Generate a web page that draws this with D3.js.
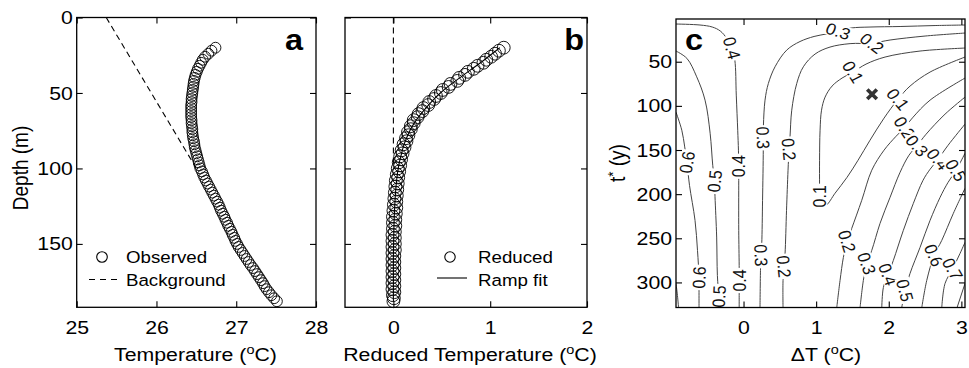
<!DOCTYPE html>
<html>
<head>
<meta charset="utf-8">
<script src="https://cdn.jsdelivr.net/npm/d3@7"></script>
<style>
  body { margin: 0; background: #fff; }
  svg { display: block; background: #fff; }
</style>
</head>
<body>
<svg width="969" height="368"></svg>
<script>
'use strict';

// ---- panel a / b data (depth in m, temperatures in degC) ----
const depth = [20,22,24,26,28,30,32,34,36,38,40,42,44,46,48,50,52,54,56,58,
  60,62,64,66,68,70,72,74,76,78,80,82,84,86,88,90,92,94,96,98,
  100,102,104,106,108,110,112,114,116,118,120,122,124,126,128,130,132,134,136,138,
  140,142,144,146,148,150,152,154,156,158,160,162,164,166,168,170,172,174,176,178,
  180,182,184,186,188];
const observed_temp = [26.74,26.69,26.65,26.61,26.58,26.56,26.54,26.52,26.505,26.49,
  26.48,26.47,26.465,26.46,26.455,26.45,26.445,26.44,26.44,26.435,
  26.435,26.435,26.435,26.435,26.44,26.44,26.445,26.45,26.45,26.455,
  26.46,26.47,26.475,26.48,26.49,26.50,26.51,26.52,26.53,26.54,
  26.55,26.57,26.585,26.60,26.62,26.64,26.66,26.68,26.70,26.72,
  26.74,26.76,26.78,26.795,26.81,26.83,26.85,26.865,26.885,26.90,
  26.92,26.94,26.955,26.975,26.99,27.01,27.03,27.055,27.08,27.105,
  27.13,27.155,27.18,27.21,27.235,27.26,27.285,27.31,27.335,27.355,
  27.38,27.41,27.44,27.475,27.51];
const reduced_temp = [1.14,1.09,1.05,1.01,0.96,0.93,0.87,0.83,0.77,0.74,
  0.68,0.66,0.59,0.57,0.51,0.49,0.44,0.42,0.37,0.36,
  0.31,0.30,0.26,0.25,0.21,0.21,0.18,0.18,0.15,0.155,
  0.13,0.135,0.105,0.115,0.085,0.095,0.07,0.08,0.055,0.07,
  0.045,0.06,0.035,0.05,0.025,0.045,0.02,0.04,0.015,0.035,
  0.01,0.03,0.005,0.03,0.0,0.025,-0.005,0.02,-0.005,0.02,
  -0.005,0.015,-0.01,0.015,-0.01,0.015,-0.01,0.015,-0.01,0.01,
  -0.01,0.01,-0.01,0.01,-0.01,0.01,-0.01,0.01,-0.01,0.01,
  -0.01,0.01,-0.005,0.005,0.0];
const background_line = [[25.37, 0], [26.50, 100]];
const ramp_depth = [20,25,30,35,40,45,50,55,60,65,70,75,80,85,90,95,100,110,120,130,140,150,160,170,180,188];
const ramp_temp = [1.10,1.00,0.90,0.79,0.685,0.58,0.485,0.405,0.335,0.27,0.215,0.17,0.135,0.105,0.085,0.065,0.05,0.03,0.018,0.01,0.005,0.002,0,0,0,0];
const zero_line = [[0, 0], [0, 100]];

// ---- panel c data: contour paths as [deltaT, t*] ----
const c04_left = [[-0.93,7.3],[-0.60,8.4],[-0.43,10.7],[-0.32,15.2],[-0.23,23.7],[-0.16,34.5],[-0.12,48.1],[-0.10,87.8],[-0.08,127.6],[-0.07,150.2],[-0.066,168.4],[-0.066,184.3],[-0.066,241],[-0.06,280.8],[-0.06,297.8],[-0.06,314.8],[-0.06,328.4]];
const c05_left = [[-0.93,37.9],[-0.78,46.2],[-0.645,67.1],[-0.53,93.5],[-0.46,131],[-0.424,167.3],[-0.40,185.4],[-0.393,202.4],[-0.37,248.6],[-0.36,292.1],[-0.34,315.9],[-0.333,328.4]];
const c06_left = [[-0.93,107.1],[-0.85,127.6],[-0.81,146.5],[-0.78,163.9],[-0.744,190],[-0.668,229.7],[-0.634,263.7],[-0.613,294.4],[-0.613,309.1],[-0.613,328.4]];
const c07_left = [[-0.93,301.2],[-0.91,314.8],[-0.895,328.4]];
const c03_left = [[0.227,328.4],[0.234,284.2],[0.241,269.4],[0.251,255.8],[0.262,207],[0.272,150],[0.271,136.1],[0.274,122],[0.296,93.5],[0.342,74.6],[0.434,55.7],[0.595,36.8],[0.778,27.1],[0.971,21.4],[1.136,18.6],[1.302,15.2],[1.481,11.8],[1.742,10.7],[2.156,10.1],[2.638,9.0],[3.05,8.4]];
const c02_left = [[0.544,328.4],[0.544,297.8],[0.558,281.9],[0.572,267.1],[0.592,218.3],[0.613,172.9],[0.627,149.1],[0.640,135.2],[0.664,104.9],[0.733,74.6],[0.824,55.7],[0.985,41.3],[1.191,33.4],[1.467,29.5],[1.77,29],[2.018,25.4],[2.50,20.9],[3.05,17.5]];
const c01_loop = [[3.05,34.5],[2.431,37.9],[1.949,44.7],[1.687,52.7],[1.508,61.7],[1.357,68.5],[1.219,77.6],[1.123,90.1],[1.074,104.9],[1.054,127.6],[1.047,161.6],[1.047,190],[1.047,202.4],[1.054,213.8],[1.136,212.7],[1.260,199],[1.426,180.9],[1.577,161.6],[1.742,138.9],[1.935,113.9],[2.128,92.4],[2.293,77.6],[2.569,61.7],[3.05,44.7]];
const c02_right = [[1.284,328.4],[1.329,297.8],[1.375,271.7],[1.426,253.5],[1.490,238.8],[1.628,207],[1.766,172.9],[1.935,150.2],[2.101,134.4],[2.218,124.7],[2.335,112.8],[2.569,93.5],[3.05,68.5]];
const c03_right = [[1.605,328.4],[1.650,297.8],[1.697,278.5],[1.766,263.7],[1.880,233.1],[2.018,203.6],[2.156,175.2],[2.279,155.9],[2.390,145.1],[2.514,132.1],[2.775,109.4],[3.05,90.1]];
const c04_right = [[1.904,328.4],[1.926,305.7],[1.990,291],[2.063,275.1],[2.201,241],[2.339,210.4],[2.472,184.3],[2.569,171.8],[2.679,160.5],[2.817,144.6],[3.05,120.7]];
const c05_right = [[2.179,328.4],[2.224,309.1],[2.293,289.8],[2.431,260.3],[2.569,229.7],[2.707,203.6],[2.817,186.6],[2.927,172.9],[3.05,153.7]];
const c06_right = [[2.455,328.4],[2.523,297.8],[2.624,269.4],[2.730,252.4],[2.890,221.7],[3.05,193.4]];
const c07_right = [[2.730,328.4],[2.775,301.2],[2.879,284.7],[2.982,267.1],[3.05,254.6]];
const c08_right = [[2.941,328.4],[3.05,301.2]];
const contour_paths = [c04_left,c05_left,c06_left,c07_left,c03_left,c02_left,c01_loop,
  c02_right,c03_right,c04_right,c05_right,c06_right,c07_right,c08_right];

// contour labels: level, deltaT, t*
const contour_labels = [
  [0.4,-0.16,34.5],[0.4,-0.066,168.4],[0.4,-0.06,297.8],
  [0.5,-0.40,185.4],[0.5,-0.34,315.9],
  [0.6,-0.78,163.9],[0.6,-0.613,294.4],
  [0.3,0.241,269.4],[0.3,0.271,136.1],[0.3,1.302,15.2],
  [0.2,0.558,281.9],[0.2,0.627,149.1],[0.2,1.77,29],
  [0.1,1.508,61.7],[0.1,1.047,202.4],[0.1,2.128,92.4],
  [0.2,1.426,253.5],[0.2,2.218,124.7],
  [0.3,1.697,278.5],[0.3,2.390,145.1],
  [0.4,1.990,291],[0.4,2.679,160.5],
  [0.5,2.224,309.1],[0.5,2.927,172.9],
  [0.6,2.624,269.4],
  [0.7,2.879,284.7]
];
const best_fit = [1.77, 86.8];

// tick values
const a_xticks = [25,26,27,28];
const b_xticks = [0,1,2];
const c_xticks = [0,1,2,3];
const ab_yticks = [0,50,100,150];
const c_yticks = [50,100,150,200,250,300];

// ---- drawing ----
const SX = 1.12;   // the figure is a bit wider than tall
const FONT = "'Liberation Sans', Arial, Helvetica, sans-serif";
const TICK_FS = 19;
const svg = d3.select('svg').attr('font-family', FONT);

const ya = d3.scaleLinear().domain([0, 192]).range([17.5, 307.3]);
const xa = d3.scaleLinear().domain([25, 28]).range([76.7, 316]);
const xb = d3.scaleLinear().domain([-0.5, 2]).range([345, 587]);
const xc = d3.scaleLinear().domain([-0.93, 3.05]).range([676, 965]);
const yc = d3.scaleLinear().domain([1.6, 328.4]).range([19, 307.5]);

function add_text(parent, x, y, size, rot) {
  return parent.append('text')
    .attr('transform', `translate(${x},${y}) scale(${SX},1)` + (rot ? ` rotate(${rot})` : ''))
    .attr('font-size', size);
}
function deg_text(t, before, after) {
  t.append('tspan').text(before);
  t.append('tspan').attr('font-size', '0.68em').attr('dy', '-0.55em').text('o');
  t.append('tspan').attr('dy', '0.374em').text(after);
}

function draw_frame(x, y, xt, yt, show_y) {
  const g = svg.append('g');
  const [x0, x1] = x.range();
  const [y0, y1] = y.range();
  const style = s => s.call(s => s.select('.domain').remove())
    .attr('font-size', TICK_FS).attr('font-family', FONT)
    .call(s => s.selectAll('.tick line').attr('stroke-width', 1.1))
    .call(s => s.selectAll('.tick text').attr('transform', `scale(${SX},1)`));
  g.append('g').attr('transform', `translate(0,${y1})`)
    .call(d3.axisBottom(x).tickValues(xt).tickSizeInner(-6).tickSizeOuter(0).tickPadding(13).tickFormat(d3.format('d')))
    .call(style);
  g.append('g').attr('transform', `translate(0,${y0})`)
    .call(d3.axisTop(x).tickValues(xt).tickSizeInner(-6).tickSizeOuter(0).tickFormat(''))
    .call(style);
  g.append('g').attr('transform', `translate(${x0},0)`)
    .call(d3.axisLeft(y).tickValues(yt).tickSizeInner(-6).tickSizeOuter(0).tickPadding(3.5)
      .tickFormat(show_y ? d3.format('d') : ''))
    .call(style);
  g.append('g').attr('transform', `translate(${x1},0)`)
    .call(d3.axisRight(y).tickValues(yt).tickSizeInner(-6).tickSizeOuter(0).tickFormat(''))
    .call(style);
  g.append('rect')
    .attr('x', x0).attr('y', y0).attr('width', x1 - x0).attr('height', y1 - y0)
    .attr('fill', 'none').attr('stroke', '#000').attr('stroke-width', 1.3);
  return g;
}

// ---------- panel a ----------
const ga = svg.append('g');
ga.append('path')
  .datum(background_line)
  .attr('d', d3.line().x(d => xa(d[0])).y(d => ya(d[1])))
  .attr('fill', 'none').attr('stroke', '#000').attr('stroke-width', 1.1)
  .attr('stroke-dasharray', '6,4');
ga.append('g').selectAll('circle')
  .data(depth).enter()
  .append('circle')
    .attr('cx', (d, i) => xa(observed_temp[i]))
    .attr('cy', d => ya(d))
    .attr('r', 5.4)
    .attr('fill', 'none').attr('stroke', '#000').attr('stroke-width', 0.9);
draw_frame(xa, ya, a_xticks, ab_yticks, true);

// legend a
ga.append('circle').attr('cx', 102).attr('cy', 257).attr('r', 5.3)
  .attr('fill', 'none').attr('stroke', '#000').attr('stroke-width', 1.1);
add_text(ga, 126, 263, 16.7).text('Observed');
ga.append('line').attr('x1', 89).attr('x2', 120).attr('y1', 279.5).attr('y2', 279.5)
  .attr('stroke', '#000').attr('stroke-width', 1.1).attr('stroke-dasharray', '6,5');
add_text(ga, 126, 286, 16.7).text('Background');
add_text(ga, 303, 50, 29).attr('text-anchor', 'end').attr('font-weight', 'bold').text('a');
deg_text(add_text(ga, 195.5, 361, TICK_FS).attr('text-anchor', 'middle'), 'Temperature (', 'C)');
add_text(ga, 28.3, 168, TICK_FS, -90).attr('text-anchor', 'middle').text('Depth (m)');

// ---------- panel b ----------
const gb = svg.append('g');
gb.append('path')
  .datum(zero_line)
  .attr('d', d3.line().x(d => xb(d[0])).y(d => ya(d[1])))
  .attr('fill', 'none').attr('stroke', '#000').attr('stroke-width', 1.1)
  .attr('stroke-dasharray', '6,4');
gb.append('g').selectAll('circle')
  .data(depth).enter()
  .append('circle')
    .attr('cx', (d, i) => xb(reduced_temp[i]))
    .attr('cy', d => ya(d))
    .attr('r', 6.4)
    .attr('fill', 'none').attr('stroke', '#000').attr('stroke-width', 0.9);
gb.append('path')
  .datum(ramp_depth)
  .attr('d', d3.line().x((d, i) => xb(ramp_temp[i])).y(d => ya(d)).curve(d3.curveMonotoneY))
  .attr('fill', 'none').attr('stroke', '#000').attr('stroke-width', 1.1);
draw_frame(xb, ya, b_xticks, ab_yticks, false);

gb.append('circle').attr('cx', 450).attr('cy', 257).attr('r', 5.2)
  .attr('fill', 'none').attr('stroke', '#000').attr('stroke-width', 1.1);
add_text(gb, 478, 263, 16.7).text('Reduced');
gb.append('line').attr('x1', 437).attr('x2', 467).attr('y1', 278).attr('y2', 278)
  .attr('stroke', '#000').attr('stroke-width', 1.1);
add_text(gb, 478, 286, 16.7).text('Ramp fit');
add_text(gb, 584, 50, 29).attr('text-anchor', 'end').attr('font-weight', 'bold').text('b');
deg_text(add_text(gb, 470, 361, TICK_FS).attr('text-anchor', 'middle'), 'Reduced Temperature (', 'C)');

// ---------- panel c ----------
const gc = svg.append('g');
gc.append('clipPath').attr('id', 'clip-c')
  .append('rect')
    .attr('x', xc.range()[0]).attr('y', yc.range()[0])
    .attr('width', xc.range()[1] - xc.range()[0]).attr('height', yc.range()[1] - yc.range()[0]);
const contour_g = gc.append('g').attr('clip-path', 'url(#clip-c)');
const contour_line = d3.line().x(d => xc(d[0])).y(d => yc(d[1])).curve(d3.curveCatmullRom.alpha(0.5));
contour_g.selectAll('path')
  .data(contour_paths).enter()
  .append('path')
    .attr('d', contour_line)
    .attr('fill', 'none').attr('stroke', '#444').attr('stroke-width', 1);

// label rotations, in the same order as contour_labels
const label_angle = [75,-90,-90, -85,-88, -82,-88, 88,88,20, 85,85,40, 60,-90,52, 74,59, 72,51, 70,52, 76,60, 69, 63];
const LABEL_FS = 16;
contour_labels.forEach((d, i) => {
  const lg = contour_g.append('g')
    .attr('transform', `translate(${xc(d[1])},${yc(d[2])}) scale(${SX},1) rotate(${label_angle[i]})`);
  const bg = lg.append('rect').attr('fill', '#fff');
  const t = lg.append('text')
    .attr('font-size', LABEL_FS).attr('text-anchor', 'middle').attr('dy', '0.36em')
    .attr('fill', '#111')
    .text(d3.format('.1f')(d[0]));
  const w = t.node().getComputedTextLength();
  bg.attr('x', -w / 2 - 1.5).attr('y', -LABEL_FS * 0.42).attr('width', w + 3).attr('height', LABEL_FS * 0.84);
});

// best fit marker
const s = 4.8;
gc.append('path')
  .attr('d', `M${xc(best_fit[0]) - s},${yc(best_fit[1]) - s}L${xc(best_fit[0]) + s},${yc(best_fit[1]) + s}` +
             `M${xc(best_fit[0]) + s},${yc(best_fit[1]) - s}L${xc(best_fit[0]) - s},${yc(best_fit[1]) + s}`)
  .attr('stroke', '#333').attr('stroke-width', 3.6).attr('fill', 'none');

draw_frame(xc, yc, c_xticks, c_yticks, true);
add_text(gc, 685, 50, 29).attr('font-weight', 'bold').text('c');
deg_text(add_text(gc, 826, 361, TICK_FS).attr('text-anchor', 'middle'), '\u0394T (', 'C)');
const ty = add_text(gc, 625, 163, TICK_FS, -90).attr('text-anchor', 'middle');
ty.append('tspan').text('t');
ty.append('tspan').attr('font-size', '0.7em').attr('dy', '-0.5em').text('*');
ty.append('tspan').attr('dy', '0.35em').text(' (y)');
</script>
</body>
</html>
